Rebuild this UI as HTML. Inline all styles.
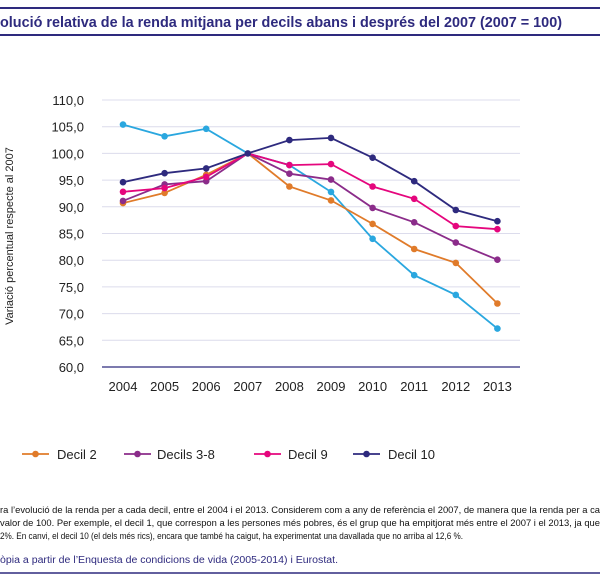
<!DOCTYPE html>
<html><head><meta charset="utf-8"><style>body{margin:0;background:#fff}svg{display:block}</style></head>
<body>
<svg width="600" height="584" viewBox="0 0 600 584" xmlns="http://www.w3.org/2000/svg" font-family="Liberation Sans, sans-serif">
<line x1="0" y1="8" x2="600" y2="8" stroke="#2e2a7e" stroke-width="2"/>
<line x1="0" y1="35" x2="600" y2="35" stroke="#2e2a7e" stroke-width="2"/>
<text x="0" y="27" font-size="14.5" font-weight="bold" fill="#2e2a7e" textLength="562" lengthAdjust="spacingAndGlyphs">olució relativa de la renda mitjana per decils abans i després del 2007 (2007 = 100)</text>
<g stroke="#dcdcec" stroke-width="1">
<line x1="102" y1="100" x2="520" y2="100"/><line x1="102" y1="126.7" x2="520" y2="126.7"/>
<line x1="102" y1="153.4" x2="520" y2="153.4"/><line x1="102" y1="180.1" x2="520" y2="180.1"/>
<line x1="102" y1="206.8" x2="520" y2="206.8"/><line x1="102" y1="233.5" x2="520" y2="233.5"/>
<line x1="102" y1="260.2" x2="520" y2="260.2"/><line x1="102" y1="286.9" x2="520" y2="286.9"/>
<line x1="102" y1="313.6" x2="520" y2="313.6"/><line x1="102" y1="340.3" x2="520" y2="340.3"/>
</g>
<line x1="102" y1="367" x2="520" y2="367" stroke="#2e2a7e" stroke-width="1.2"/>
<g font-size="13" fill="#222" text-anchor="end">
<text x="84" y="105">110,0</text><text x="84" y="131.7">105,0</text><text x="84" y="158.4">100,0</text>
<text x="84" y="185.1">95,0</text><text x="84" y="211.8">90,0</text><text x="84" y="238.5">85,0</text>
<text x="84" y="265.2">80,0</text><text x="84" y="291.9">75,0</text><text x="84" y="318.6">70,0</text>
<text x="84" y="345.3">65,0</text><text x="84" y="372">60,0</text>
</g>
<g font-size="13" fill="#222" text-anchor="middle">
<text x="123" y="391">2004</text><text x="164.6" y="391">2005</text><text x="206.2" y="391">2006</text>
<text x="247.8" y="391">2007</text><text x="289.4" y="391">2008</text><text x="331" y="391">2009</text>
<text x="372.6" y="391">2010</text><text x="414.2" y="391">2011</text><text x="455.8" y="391">2012</text>
<text x="497.4" y="391">2013</text>
</g>
<text transform="translate(13,236) rotate(-90)" font-size="11" fill="#222" text-anchor="middle">Variació percentual respecte al 2007</text>
<g fill="none" stroke-width="1.8">
<polyline stroke="#2aa7df" points="123,124.6 164.6,136.3 206.2,128.8 247.8,153.4 289.4,165.1 331,191.9 372.6,238.8 414.2,275.2 455.8,294.9 497.4,328.6"/>
<polyline stroke="#e07b2a" points="123,203.1 164.6,192.9 206.2,174.8 247.8,153.4 289.4,186.5 331,200.4 372.6,223.9 414.2,249 455.8,262.9 497.4,303.5"/>
<polyline stroke="#8b2c8a" points="123,200.9 164.6,184.4 206.2,181.2 247.8,153.4 289.4,173.7 331,179.6 372.6,207.9 414.2,222.3 455.8,242.6 497.4,259.7"/>
<polyline stroke="#e5067d" points="123,191.8 164.6,188.1 206.2,176.9 247.8,153.4 289.4,165.1 331,164.1 372.6,186.5 414.2,198.8 455.8,226.1 497.4,229.2"/>
<polyline stroke="#2e2a7e" points="123,182.2 164.6,173.2 206.2,168.4 247.8,153.4 289.4,140.1 331,137.9 372.6,157.7 414.2,181.2 455.8,210 497.4,221.2"/>
</g>
<g id="m" stroke="none">
<g fill="#2aa7df"><circle cx="123" cy="124.6" r="3.3"/><circle cx="164.6" cy="136.3" r="3.3"/><circle cx="206.2" cy="128.8" r="3.3"/><circle cx="289.4" cy="165.1" r="3.3"/><circle cx="331" cy="191.9" r="3.3"/><circle cx="372.6" cy="238.8" r="3.3"/><circle cx="414.2" cy="275.2" r="3.3"/><circle cx="455.8" cy="294.9" r="3.3"/><circle cx="497.4" cy="328.6" r="3.3"/></g>
<g fill="#e07b2a"><circle cx="123" cy="203.1" r="3.3"/><circle cx="164.6" cy="192.9" r="3.3"/><circle cx="206.2" cy="174.8" r="3.3"/><circle cx="289.4" cy="186.5" r="3.3"/><circle cx="331" cy="200.4" r="3.3"/><circle cx="372.6" cy="223.9" r="3.3"/><circle cx="414.2" cy="249" r="3.3"/><circle cx="455.8" cy="262.9" r="3.3"/><circle cx="497.4" cy="303.5" r="3.3"/></g>
<g fill="#8b2c8a"><circle cx="123" cy="200.9" r="3.3"/><circle cx="164.6" cy="184.4" r="3.3"/><circle cx="206.2" cy="181.2" r="3.3"/><circle cx="289.4" cy="173.7" r="3.3"/><circle cx="331" cy="179.6" r="3.3"/><circle cx="372.6" cy="207.9" r="3.3"/><circle cx="414.2" cy="222.3" r="3.3"/><circle cx="455.8" cy="242.6" r="3.3"/><circle cx="497.4" cy="259.7" r="3.3"/></g>
<g fill="#e5067d"><circle cx="123" cy="191.8" r="3.3"/><circle cx="164.6" cy="188.1" r="3.3"/><circle cx="206.2" cy="176.9" r="3.3"/><circle cx="289.4" cy="165.1" r="3.3"/><circle cx="331" cy="164.1" r="3.3"/><circle cx="372.6" cy="186.5" r="3.3"/><circle cx="414.2" cy="198.8" r="3.3"/><circle cx="455.8" cy="226.1" r="3.3"/><circle cx="497.4" cy="229.2" r="3.3"/></g>
<g fill="#2e2a7e"><circle cx="123" cy="182.2" r="3.3"/><circle cx="164.6" cy="173.2" r="3.3"/><circle cx="206.2" cy="168.4" r="3.3"/><circle cx="247.8" cy="153.4" r="3.3"/><circle cx="289.4" cy="140.1" r="3.3"/><circle cx="331" cy="137.9" r="3.3"/><circle cx="372.6" cy="157.7" r="3.3"/><circle cx="414.2" cy="181.2" r="3.3"/><circle cx="455.8" cy="210" r="3.3"/><circle cx="497.4" cy="221.2" r="3.3"/></g>
</g>
<g stroke-width="1.8">
<line x1="22" y1="454" x2="49" y2="454" stroke="#e07b2a"/><circle cx="35.5" cy="454" r="3.3" fill="#e07b2a"/>
<line x1="124" y1="454" x2="151" y2="454" stroke="#8b2c8a"/><circle cx="137.5" cy="454" r="3.3" fill="#8b2c8a"/>
<line x1="254" y1="454" x2="281" y2="454" stroke="#e5067d"/><circle cx="267.5" cy="454" r="3.3" fill="#e5067d"/>
<line x1="353" y1="454" x2="380" y2="454" stroke="#2e2a7e"/><circle cx="366.5" cy="454" r="3.3" fill="#2e2a7e"/>
</g>
<g font-size="13" fill="#222">
<text x="57" y="459">Decil 2</text><text x="157" y="459">Decils 3-8</text><text x="288" y="459">Decil 9</text><text x="388" y="459">Decil 10</text>
</g>
<g font-size="9.5" fill="#111">
<text x="0" y="513" textLength="600" lengthAdjust="spacingAndGlyphs">ra l’evolució de la renda per a cada decil, entre el 2004 i el 2013. Considerem com a any de referència el 2007, de manera que la renda per a ca</text>
<text x="0" y="526" textLength="600" lengthAdjust="spacingAndGlyphs">valor de 100. Per exemple, el decil 1, que correspon a les persones més pobres, és el grup que ha empitjorat més entre el 2007 i el 2013, ja que</text>
<text x="0" y="539" textLength="463" lengthAdjust="spacingAndGlyphs">2%. En canvi, el decil 10 (el dels més rics), encara que també ha caigut, ha experimentat una davallada que no arriba al 12,6 %.</text>
</g>
<text x="0" y="563" font-size="10" fill="#2e2a7e" textLength="338" lengthAdjust="spacingAndGlyphs">òpia a partir de l’Enquesta de condicions de vida (2005-2014) i Eurostat.</text>
<line x1="0" y1="573" x2="600" y2="573" stroke="#2e2a7e" stroke-width="1.5"/>
</svg>
</body></html>
